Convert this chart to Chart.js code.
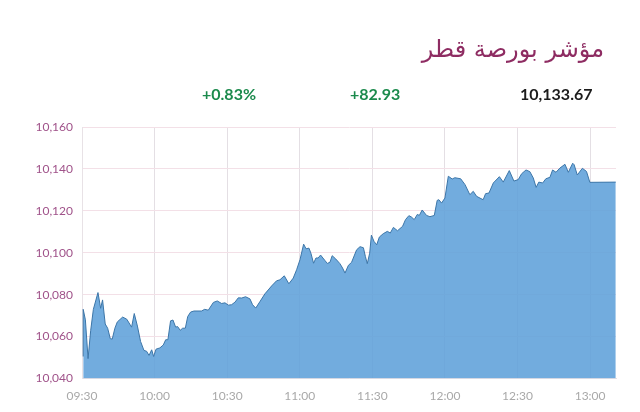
<!DOCTYPE html>
<html lang="ar">
<head>
<meta charset="utf-8">
<title>مؤشر بورصة قطر</title>
<script src="https://cdn.jsdelivr.net/npm/chart.js@4/dist/chart.umd.min.js"></script>
<style>
  html, body { margin: 0; padding: 0; background: #fff; }
  #wrap { position: relative; width: 640px; height: 412px; overflow: hidden; }
  #title { position: absolute; right: 36px; top: 35px; font: 24px "DejaVu Sans", sans-serif; color: #8e2c62; direction: rtl; }
  .stat { position: absolute; top: 85px; font: bold 16px Lato, sans-serif; line-height: 18px; }
  .up { color: #1b8a4c; }
</style>
</head>
<body>
<div id="wrap">
  <div id="title">مؤشر بورصة قطر</div>
  <div class="stat up" id="pct" style="left:202px"></div>
  <div class="stat up" id="chg" style="left:350px"></div>
  <div class="stat" id="last" style="left:520px;color:#1c1c1c"></div>
  <canvas id="chart" width="640" height="412"></canvas>
</div>
<script>
const statPct = '+0.83%';
const statChange = '+82.93';
const statLast = '10,133.67';

const timeTicks = ['09:30', '10:00', '10:30', '11:00', '11:30', '12:00', '12:30', '13:00'];

// minutes after 09:30
const minutes = [
  0.5, 0.5, 1.4, 2.5, 3.6, 4.7, 6.6, 7.7, 8.5, 9.6, 10.6, 11.7, 12.5, 13.6, 14.6, 16.8, 18.5, 20.5, 21.6, 22.9,
  24.2, 25.6, 26.7, 27.7, 28.8, 29.6, 30.6, 32.2, 33.6, 34.6, 35.5, 36.6, 37.6, 38.7, 39.5, 40.6, 41.6, 42.7, 43.7, 44.9,
  46.3, 49.4, 50.7, 52.2, 54.3, 55.9, 57.7, 59.1, 60.5, 61.8, 63.2, 64.6, 66, 67.6, 69.4, 70.5, 71.8, 73.6, 75.6, 78.4,
  80.4, 81.8, 83.6, 85.5, 87.3, 88.7, 90.1, 91.6, 92.6, 93.8, 94.6, 95.7, 96.7, 97.6, 98.6, 100.4, 101.4, 102.5, 103.4, 104.9,
  106.6, 107.7, 108.7, 110.1, 111.4, 113.5, 114.9, 116.3, 117.1, 117.9, 118.9, 119.6, 120.7, 121.8, 122.9, 124.5, 126.2, 127.4, 128.7, 130.4,
  132.5, 133.7, 135.1, 136.2, 137.3, 138.6, 139.4, 140.6, 142.4, 143.8, 145.6, 146.8, 147.5, 148.6, 150, 151.4, 153, 154.1, 156.5, 158.3,
  160.3, 161.7, 163.1, 165.8, 166.8, 168.2, 170, 172.5, 174.1, 176.6, 178.5, 180.3, 181.7, 183.5, 185.1, 186.5, 187.7, 188.8, 190.4, 191.7,
  193.4, 194.5, 195.9, 197.5, 199.6, 201, 202.8, 203.4, 204.7, 206.8, 208.5, 209.9, 220.6
];
const index = [
  10050.5, 10073, 10068, 10049.5, 10063, 10073, 10081, 10073.5, 10077.5, 10066, 10064, 10059, 10058.8, 10064, 10067, 10069.3, 10068.3, 10064.5, 10071, 10065,
  10057.7, 10053.4, 10053, 10051, 10053.7, 10050.5, 10054, 10054.6, 10056, 10058.5, 10058.5, 10067.5, 10067.9, 10064.5, 10064.8, 10063, 10064, 10064, 10069.6, 10071.7,
  10072.2, 10072.2, 10073, 10072.6, 10076.3, 10077, 10075.8, 10076.1, 10075, 10075.2, 10076.4, 10078.5, 10078.4, 10079, 10078, 10075.2, 10073.6, 10076.8, 10080.4, 10084.2,
  10086.6, 10087.1, 10089, 10085.2, 10087.9, 10091.9, 10096.7, 10104.1, 10101.9, 10102.2, 10099.8, 10095, 10097.5, 10097.5, 10098.9, 10096.3, 10094.9, 10095.5, 10098.6, 10097,
  10094.8, 10092.7, 10090.3, 10094, 10095.4, 10101.4, 10102.9, 10102.4, 10098.3, 10094.8, 10099.8, 10108.4, 10105.4, 10103.8, 10107.5, 10109.1, 10110.2, 10109.4, 10112.1, 10110.5,
  10112.6, 10115.8, 10117.7, 10117, 10115.8, 10118.3, 10117.8, 10120.4, 10117.8, 10117.2, 10117.8, 10125, 10125.3, 10123.7, 10126.1, 10136.5, 10135.2, 10135.8, 10135.3, 10132.5,
  10127.7, 10129.3, 10126.9, 10125.3, 10128.2, 10128.5, 10133.3, 10136.3, 10133.7, 10139.2, 10134.2, 10134.9, 10137.7, 10139.5, 10138.7, 10135.7, 10131.2, 10133.7, 10133.3, 10135.3,
  10136, 10139.5, 10138.4, 10140.4, 10142.2, 10138.4, 10142.7, 10142, 10137.1, 10140.3, 10138.8, 10133.6, 10133.7
];

document.getElementById('pct').textContent = statPct;
document.getElementById('chg').textContent = statChange;
document.getElementById('last').textContent = statLast;

new Chart(document.getElementById('chart'), {
  type: 'line',
  data: {
    datasets: [{
      data: minutes.map((m, i) => ({ x: m, y: index[i] })),
      borderColor: '#3d76a8',
      borderWidth: 1,
      backgroundColor: 'rgba(95, 160, 218, 0.88)',
      fill: 'start',
      pointRadius: 0,
      tension: 0,
    }],
  },
  options: {
    responsive: false,
    animation: false,
    layout: { padding: { top: 127, right: 24, left: 0, bottom: 0 } },
    plugins: { legend: { display: false }, tooltip: { enabled: false } },
    scales: {
      x: {
        type: 'linear',
        min: 0,
        max: 220.7,
        afterFit: (s) => { s.height = 33.5; },
        grid: { color: '#e4dfe4', lineWidth: 1, drawTicks: false },
        border: { color: '#e4dfe4' },
        ticks: {
          stepSize: 30,
          includeBounds: false,
          autoSkip: false,
          maxRotation: 0,
          padding: 10,
          color: '#a9a9a9',
          font: { family: 'Lato', size: 12 },
          callback: (v) => timeTicks[v / 30] ?? '',
        },
      },
      y: {
        min: 10040,
        max: 10160,
        afterFit: (s) => { s.width = 82; },
        grid: { color: '#f3e0e7', lineWidth: 1, drawTicks: false },
        border: { color: '#e8e2e6' },
        ticks: {
          stepSize: 20,
          padding: 9,
          color: '#a0538a',
          font: { family: 'Lato', size: 12 },
          callback: (v) => v.toLocaleString('en-US'),
        },
      },
    },
  },
});
</script>
</body>
</html>
